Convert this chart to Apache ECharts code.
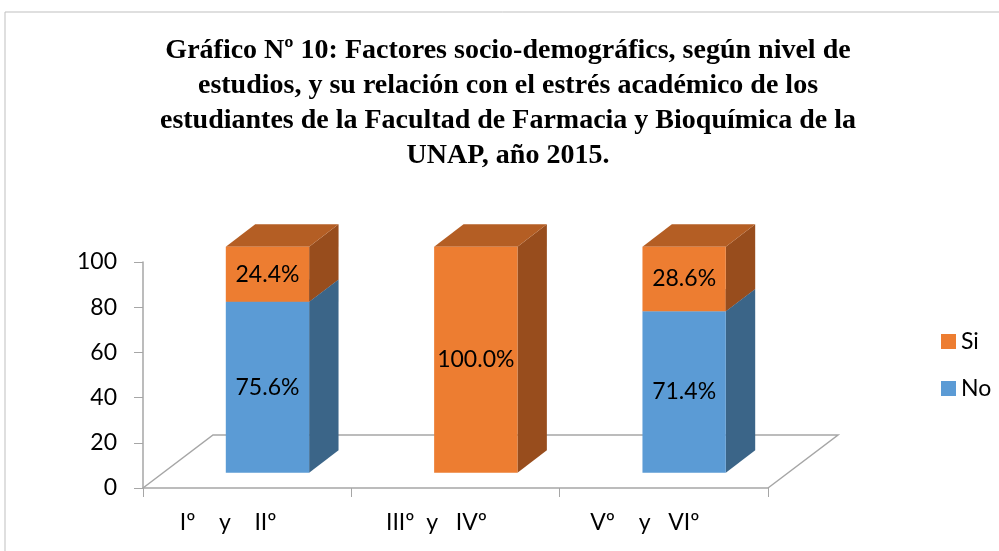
<!DOCTYPE html>
<html>
<head>
<meta charset="utf-8">
<script src="https://cdn.jsdelivr.net/npm/echarts@6/dist/echarts.min.js"></script>
<style>
html, body { margin: 0; padding: 0; background: #fff; }
#chart { width: 999px; height: 551px; }
</style>
</head>
<body>
<div id="chart"></div>
<script>
// datos del gráfico
const categories = ["Iº    y    IIº", "IIIº  y   IVº", "Vº    y   VIº"];
const noValues = [75.6, 0, 71.4];
const siValues = [24.4, 100, 28.6];
const seriesNames = ["No", "Si"];

// profundidad del piso (efecto 3D tipo Excel)
const DEPTH = [70, -53];
const FRONT_T = 0.29;
const BACK_T = 0.42;

function barRender(front, side, top) {
    return function (params, api) {
        const cat = api.value(0);
        const base = api.value(1);
        const end = api.value(2);
        if (end - base <= 0) return;
        const w = api.size([1, 0])[0] * 0.4;
        const p0 = api.coord([cat, base]);
        const p1 = api.coord([cat, end]);
        const fx = DEPTH[0] * FRONT_T, fy = DEPTH[1] * FRONT_T;
        const bx = DEPTH[0] * BACK_T, by = DEPTH[1] * BACK_T;
        const x0 = p0[0] - w / 2 + fx;
        const x1 = x0 + w;
        const yb = p0[1] + fy;
        const yt = p1[1] + fy;
        return {
            type: "group",
            children: [
                {
                    type: "polygon",
                    shape: { points: [[x1, yb], [x1 + bx, yb + by], [x1 + bx, yt + by], [x1, yt]] },
                    style: { fill: side }
                },
                {
                    type: "polygon",
                    shape: { points: [[x0, yt], [x0 + bx, yt + by], [x1 + bx, yt + by], [x1, yt]] },
                    style: { fill: top }
                },
                {
                    type: "rect",
                    shape: { x: x0, y: yt, width: w, height: yb - yt },
                    style: { fill: front }
                },
                {
                    type: "text",
                    x: (x0 + x1) / 2,
                    y: (yb + yt) / 2,
                    style: {
                        text: api.value(3).toFixed(1) + "%",
                        align: "center",
                        verticalAlign: "middle",
                        font: "23px Lato",
                        fill: "#000"
                    }
                }
            ]
        };
    };
}

function floorRender(params, api) {
    const cs = params.coordSys;
    const left = cs.x, right = cs.x + cs.width, bottom = cs.y + cs.height;
    return {
        type: "polyline",
        shape: {
            points: [
                [left, bottom],
                [left + DEPTH[0], bottom + DEPTH[1]],
                [right + DEPTH[0], bottom + DEPTH[1]],
                [right, bottom]
            ]
        },
        style: { stroke: "#a6a6a6", lineWidth: 1.5, fill: null }
    };
}

const chart = echarts.init(document.getElementById("chart"));

chart.setOption({
    backgroundColor: "#fff",
    animation: false,
    graphic: [
        {
            type: "rect",
            shape: { x: 5, y: 12, width: 1000, height: 600 },
            style: { stroke: "#bfbfbf", lineWidth: 1, fill: null },
            silent: true
        },
        {
            type: "text",
            x: 508,
            y: 33,
            style: {
                text: "Gráfico Nº 10: Factores socio-demográfics, según nivel de\n" +
                    "estudios, y su relación con el estrés académico de los\n" +
                    "estudiantes de la Facultad de Farmacia y Bioquímica de la\n" +
                    "UNAP, año 2015.",
                align: "center",
                verticalAlign: "top",
                font: "bold 28px 'Liberation Serif'",
                lineHeight: 35,
                fill: "#000"
            }
        }
    ],
    legend: {
        data: ["Si", "No"],
        orient: "vertical",
        left: 936,
        top: 325,
        itemWidth: 15,
        itemHeight: 15,
        itemGap: 24,
        icon: "rect",
        formatter: "{t|{name}}",
        textStyle: {
            color: "#000",
            rich: {
                t: { fontFamily: "Lato", fontSize: 23, color: "#000", lineHeight: 24 }
            }
        }
    },
    grid: { left: 143, right: 231, top: 262, bottom: 63 },
    xAxis: {
        type: "category",
        data: categories,
        axisLine: { lineStyle: { color: "#a6a6a6", width: 1.5 } },
        axisTick: { show: true, length: 9, lineStyle: { color: "#a6a6a6" } },
        axisLabel: {
            fontFamily: "Lato",
            fontSize: 23,
            color: "#000",
            margin: 23,
            padding: [0, 38, 0, 0]
        }
    },
    yAxis: {
        type: "value",
        min: 0,
        max: 100,
        interval: 20,
        axisLine: { show: true, lineStyle: { color: "#a6a6a6", width: 1.5 } },
        axisTick: { show: true, length: 9, lineStyle: { color: "#a6a6a6" } },
        splitLine: { show: false },
        axisLabel: { fontFamily: "Lato", fontSize: 23, color: "#000", margin: 26 }
    },
    series: [
        {
            type: "custom",
            name: "floor",
            silent: true,
            z: 1,
            renderItem: floorRender,
            data: [[0, 0]]
        },
        {
            type: "custom",
            name: seriesNames[0],
            z: 2,
            itemStyle: { color: "#5b9bd5" },
            encode: { x: 0, y: [1, 2] },
            renderItem: barRender("#5b9bd5", "#3b6588", "#4a80b2"),
            data: noValues.map((v, i) => [i, 0, v, v])
        },
        {
            type: "custom",
            name: seriesNames[1],
            z: 3,
            itemStyle: { color: "#ed7d31" },
            encode: { x: 0, y: [1, 2] },
            renderItem: barRender("#ed7d31", "#984d1d", "#b45e24"),
            data: siValues.map((v, i) => [i, noValues[i], noValues[i] + v, v])
        }
    ]
});
</script>
</body>
</html>
